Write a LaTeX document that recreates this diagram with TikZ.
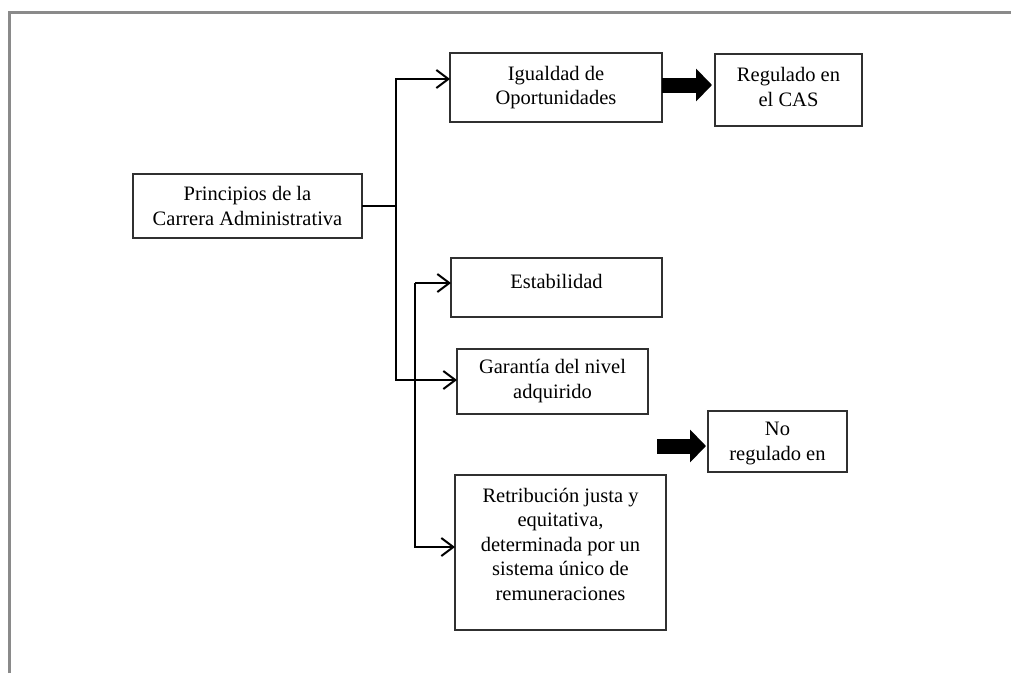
\documentclass[tikz,border=0pt]{standalone}
\usepackage{fontspec}
\setmainfont{Liberation Serif}
\usetikzlibrary{arrows.meta,calc}
\definecolor{framec}{HTML}{8A8A8A}
\definecolor{boxc}{HTML}{303030}
\begin{document}
\begin{tikzpicture}[x=1pt,y=-1pt,
  box/.style={draw=boxc,line width=1.4pt,inner sep=0pt,outer sep=0pt},
  txt/.style={font=\fontsize{20.5}{24.5}\selectfont,align=center,inner sep=0pt,text=black},
  conn/.style={line width=2pt,-{Straight Barb[length=12pt,width=18pt,line width=2pt]}},
  bigarrow/.style={line width=15pt,-{Triangle[length=16pt,width=32pt]}}]
\useasboundingbox (0,0) rectangle (1011,673);
% frame
\draw[framec,line width=3pt] (9,673) -- (9,12) -- (1011,12);
% boxes
\node[box,minimum width=229pt,minimum height=64pt] (P) at (247.5,206) {};
\node[txt] (Pt) at (P.center) {Principios de la\\Carrera Administrativa};
\node[box,minimum width=212pt,minimum height=69pt] (I) at (556,87.5) {};
\node[txt] (It) at (I.center) {Igualdad de\\Oportunidades};
\node[box,minimum width=147pt,minimum height=72pt] (R) at (788.5,90) {};
\node[txt] (Rt) at (788.5,87) {Regulado en\\el CAS};
\node[box,minimum width=211pt,minimum height=59pt] (E) at (556.5,287.5) {};
\node[txt] (Et) at (556.5,281) {Estabilidad};
\node[box,minimum width=191pt,minimum height=65pt] (G) at (552.5,381.5) {};
\node[txt] (Gt) at (552.5,381) {Garantía del nivel\\adquirido};
\node[box,minimum width=139pt,minimum height=61pt] (N) at (777.5,441.5) {};
\node[txt] (Nt) at (777.5,443.5) {No\\regulado en};
\node[box,minimum width=211pt,minimum height=155pt] (T) at (560.5,552.5) {};
\node[txt] (Tt) at (560.5,544) {Retribución justa y\\equitativa,\\determinada por un\\sistema único de\\remuneraciones};
% connectors
\coordinate (j) at (396,206);
\draw[conn] (P.east) -- (j) |- ([yshift=8.5pt]I.west);
\draw[conn] (j) |- ([yshift=1.5pt]G.west);
\coordinate (k) at (415,283);
\draw[conn] (k) -- (k -| E.west);
\draw[conn] (k) |- ([yshift=5.5pt]T.west);
% thick arrows
\draw[bigarrow,shorten >=3pt] ([yshift=2.5pt]I.east) -- ([yshift=2.5pt]I.east -| R.west);
\coordinate (nA) at (657,446);
\draw[bigarrow,shorten >=2pt] (nA) -- (nA -| N.west);
\end{tikzpicture}
\end{document}
